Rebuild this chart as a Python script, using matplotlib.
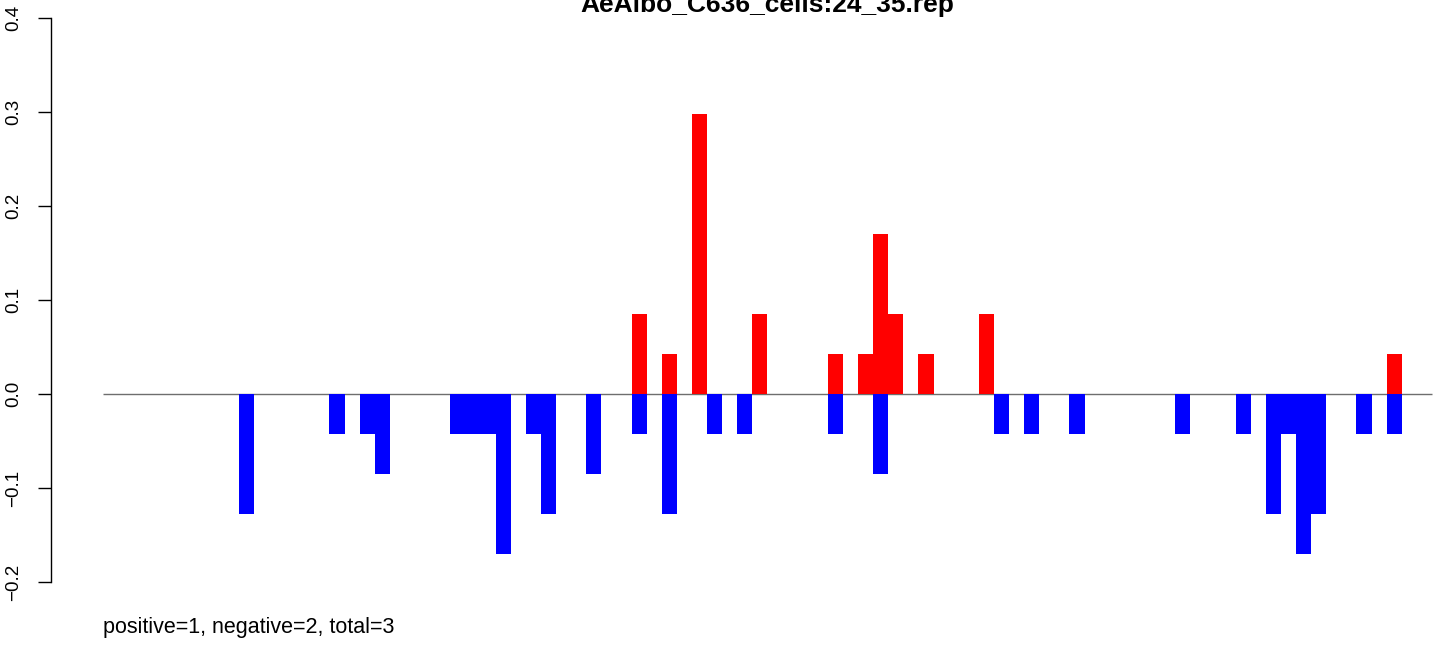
import matplotlib as mpl

mpl.use("Agg")
import matplotlib.pyplot as plt

plt.rcParams["font.family"] = ["Liberation Sans", "DejaVu Sans"]

TITLE = "AeAlbo_C636_cells:24_35.rep"
N_BINS = 88

# bin index -> value (positive strand in red, negative in blue)
POS_BINS = [35, 37, 39, 43, 48, 50, 51, 52, 54, 58, 85]
POS_VALUES = [0.0851, 0.0426, 0.2979, 0.0851, 0.0426, 0.0426, 0.1702, 0.0851, 0.0426, 0.0851, 0.0426]

NEG_BINS = [9, 15, 17, 18, 23, 24, 25, 26, 28, 29, 32, 35, 37, 40, 42, 48, 51,
            59, 61, 64, 71, 75, 77, 78, 79, 80, 83, 85]
NEG_VALUES = [-0.1277, -0.0426, -0.0426, -0.0851, -0.0426, -0.0426, -0.0426, -0.1702,
              -0.0426, -0.1277, -0.0851, -0.0426, -0.1277, -0.0426, -0.0426, -0.0426,
              -0.0851, -0.0426, -0.0426, -0.0426, -0.0426, -0.0426, -0.1277, -0.0426,
              -0.1702, -0.1277, -0.0426, -0.0426]

Y_TICKS = [-0.2, -0.1, 0.0, 0.1, 0.2, 0.3, 0.4]
SUMMARY = "positive=1, negative=2, total=3"

W, H = 1444, 649
fig = plt.figure(figsize=(W / 100, H / 100), dpi=100)
ax = fig.add_axes([51 / W, 49 / H, (W - 51) / W, (H - 49) / H])

ax.bar(POS_BINS, POS_VALUES, width=1, align="edge", color="#ff0000", linewidth=0)
ax.bar(NEG_BINS, NEG_VALUES, width=1, align="edge", color="#0000ff", linewidth=0)
ax.hlines(0, 0, N_BINS, color="#6e6e6e", linewidth=1.0, zorder=0.5)

ax.set_xlim(-3.44, 88.8)
ax.set_ylim(-0.2191, 0.4191)

for side in ("top", "right", "bottom"):
    ax.spines[side].set_visible(False)
ax.spines["left"].set_bounds(-0.2, 0.4)
ax.spines["left"].set_linewidth(1.0)
ax.set_xticks([])
ax.set_yticks(Y_TICKS)
ax.set_yticklabels([f"{v:.1f}".replace("-", "\u2212") for v in Y_TICKS],
                   rotation=90, va="center", fontsize=13.5)
ax.tick_params(axis="y", length=9.5, width=1.0, pad=11)

fig.text(767 / W, (H - 12) / H, TITLE, ha="center", va="baseline",
         fontsize=19, fontweight="bold")
fig.text(103 / W, 16 / H, SUMMARY, ha="left", va="baseline", fontsize=15.5)

fig.savefig("out.png", dpi=100)
plt.close(fig)
